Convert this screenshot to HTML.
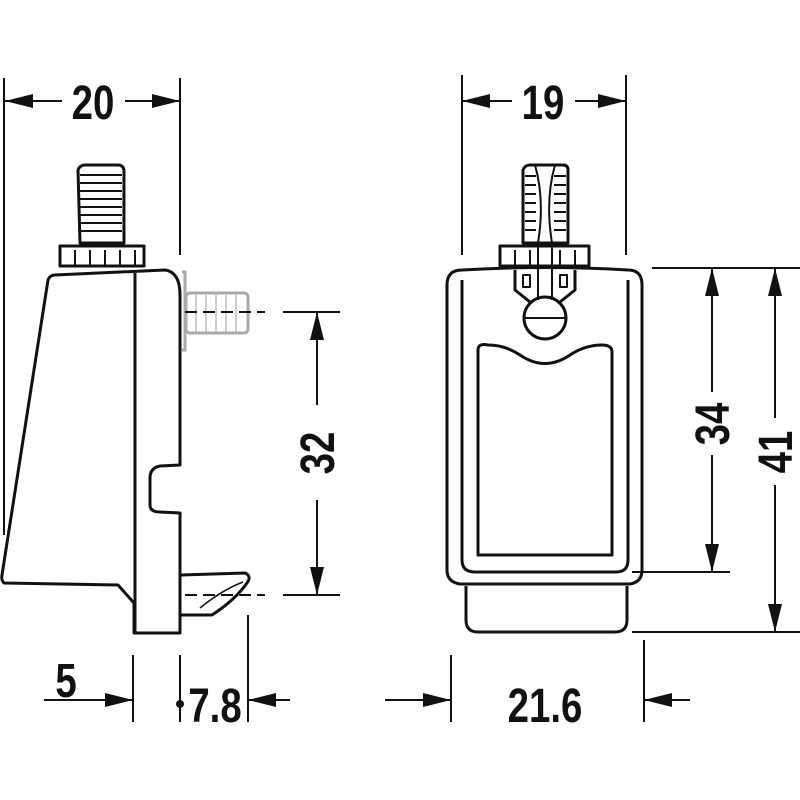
<!DOCTYPE html>
<html><head><meta charset="utf-8"><style>html,body{margin:0;padding:0;background:#fff}svg{display:block}</style></head>
<body>
<svg width="800" height="800" viewBox="0 0 800 800" xmlns="http://www.w3.org/2000/svg">
<g fill="none" stroke="#111" stroke-width="2">
<line x1="4" y1="78" x2="4" y2="535"/>
<line x1="180" y1="78" x2="180" y2="255"/>
<line x1="462" y1="75" x2="462" y2="255"/>
<line x1="626" y1="75" x2="626" y2="255"/>
<!-- dim lines -->
<line x1="5" y1="101" x2="62" y2="101"/>
<line x1="125" y1="101" x2="180" y2="101"/>
<line x1="462" y1="101" x2="512" y2="101"/>
<line x1="575" y1="101" x2="626" y2="101"/>
<line x1="317" y1="312" x2="317" y2="405"/>
<line x1="317" y1="500" x2="317" y2="595"/>
<line x1="712" y1="268" x2="712" y2="392"/>
<line x1="712" y1="455" x2="712" y2="572"/>
<line x1="775" y1="268" x2="775" y2="418"/>
<line x1="775" y1="485" x2="775" y2="632"/>
<line x1="44" y1="700" x2="133" y2="700"/>
<line x1="248" y1="700" x2="290" y2="700"/>
<line x1="385" y1="700" x2="451" y2="700"/>
<line x1="644" y1="700" x2="690" y2="700"/>
<!-- ext -->
<line x1="283" y1="312" x2="340" y2="312"/>
<line x1="283" y1="595" x2="340" y2="595"/>
<line x1="133" y1="655" x2="133" y2="722"/>
<line x1="180" y1="655" x2="180" y2="722"/>
<line x1="248" y1="615" x2="248" y2="722"/>
<line x1="451" y1="655" x2="451" y2="722"/>
<line x1="644" y1="640" x2="644" y2="722"/>
<line x1="652" y1="268" x2="800" y2="268"/>
<line x1="632" y1="572" x2="730" y2="572"/>
<line x1="632" y1="632" x2="800" y2="632"/>
</g>
<g fill="#111">
<polygon points="5,101 33,94 33,108"/>
<polygon points="180,101 152,94 152,108"/>
<polygon points="462,101 490,94 490,108"/>
<polygon points="626,101 598,94 598,108"/>
<polygon points="317,312 310,340 324,340"/>
<polygon points="317,595 310,567 324,567"/>
<polygon points="712,268 705,296 719,296"/>
<polygon points="712,572 705,544 719,544"/>
<polygon points="775,268 768,296 782,296"/>
<polygon points="775,632 768,604 782,604"/>
<polygon points="133,700 105,693 105,707"/>
<polygon points="248,700 276,693 276,707"/>
<polygon points="451,700 423,693 423,707"/>
<polygon points="644,700 672,693 672,707"/>
<circle cx="180" cy="704" r="4"/>
</g>
<g font-family="Liberation Sans, sans-serif" font-weight="bold" font-size="48" fill="#111" text-anchor="middle">
<text transform="translate(93,119) scale(0.8,1)">20</text>
<text transform="translate(543,119) scale(0.8,1)">19</text>
<text transform="translate(66,697) scale(0.8,1)">5</text>
<text transform="translate(215,722) scale(0.8,1)">7.8</text>
<text transform="translate(545,722) scale(0.8,1)">21.6</text>
<text transform="translate(334,453) rotate(-90) scale(0.8,1)">32</text>
<text transform="translate(729,424) rotate(-90) scale(0.8,1)">34</text>
<text transform="translate(792,452) rotate(-90) scale(0.8,1)">41</text>
</g>
<!-- left view body -->
<g fill="none" stroke="#111" stroke-width="3" stroke-linejoin="round">
<path d="M78,170 Q80,165 85,165 L118,165 Q123,165 124,170 L124,243 L80,243 Z"/>
<path d="M60,246 L144,246 L144,266 L60,266 Z"/>
<path d="M55,275 L165,270 Q180,272 180,295 L180,465 L160,466 Q150,468 150,478 L150,505 Q150,512 160,512 L180,513 L180,633 L134,633 L134,603 L118,585 L4,583 Q1,580 2,575 L48,280 Q50,275 55,275 Z"/>
<line x1="135" y1="273" x2="135" y2="633"/>
<path d="M181,575 L245,573 Q252,576 247,583 Q235,600 212,615 L181,615"/>
<path d="M200,608 Q222,590 243,582" stroke-width="1.5"/>
</g>
<g stroke="#111" stroke-width="2">
<line x1="80" y1="175" x2="122" y2="175"/><line x1="80" y1="183" x2="122" y2="183"/><line x1="80" y1="191" x2="122" y2="191"/><line x1="80" y1="199" x2="122" y2="199"/><line x1="80" y1="207" x2="122" y2="207"/><line x1="80" y1="215" x2="122" y2="215"/><line x1="80" y1="223" x2="122" y2="223"/><line x1="80" y1="231" x2="122" y2="231"/>
<line x1="75" y1="250" x2="75" y2="266"/><line x1="90" y1="250" x2="90" y2="266"/><line x1="105" y1="250" x2="105" y2="266"/><line x1="120" y1="250" x2="120" y2="266"/><line x1="135" y1="250" x2="135" y2="266"/>
</g>
<g stroke="#aaa" stroke-width="3" fill="none">
<path d="M182,272 L185,272 L185,350 L182,350"/>
<rect x="186" y="293" width="62" height="40" rx="4"/>
</g>
<g stroke="#bbb" stroke-width="1.5">
<line x1="196" y1="295" x2="196" y2="332"/><line x1="206" y1="295" x2="206" y2="332"/><line x1="216" y1="295" x2="216" y2="332"/><line x1="226" y1="295" x2="226" y2="332"/><line x1="236" y1="295" x2="236" y2="332"/>
</g>
<g stroke="#111" stroke-width="2">
<line x1="185" y1="312" x2="265" y2="312" stroke-dasharray="12,6"/>
<line x1="185" y1="595" x2="265" y2="595" stroke-dasharray="12,6"/>
</g>
<!-- right view -->
<g fill="none" stroke="#111" stroke-width="3" stroke-linejoin="round">
<path d="M447,285 Q447,270 462,270 Q545,265 628,270 Q642,270 642,285 L642,570 Q642,582 630,584 L460,584 Q447,582 447,570 Z"/>
<path d="M462,280 L462,560 Q462,572 475,572 L616,572 Q628,572 628,560 L628,280"/>
<path d="M478,350 Q478,343 488,345 Q505,345 520,355 Q545,372 570,355 Q585,345 602,345 Q612,345 612,352 L612,555 L478,555 Z"/>
<path d="M466,586 L466,620 Q466,632 478,632 L615,632 Q627,632 627,620 L627,586"/>
<path d="M523,170 Q525,165 530,165 L563,165 Q568,165 568,170 L568,243 L523,243 Z"/>
<path d="M500,246 L589,246 L589,266 L500,266 Z"/>
<path d="M515,270 L515,290 L530,302 M575,270 L575,290 L560,302"/>
<circle cx="545" cy="318" r="21"/>
<line x1="524" y1="318" x2="566" y2="318" stroke-width="2"/>
<path d="M535,165 Q545,200 538,243 M555,165 Q545,200 552,243 M538,243 L538,300 M552,243 L552,300" stroke-width="2"/>
<rect x="523" y="275" width="7" height="12" stroke-width="2"/>
<rect x="560" y="275" width="7" height="12" stroke-width="2"/>
</g>
<g stroke="#111" stroke-width="2">
<line x1="525" y1="176" x2="536" y2="176"/><line x1="525" y1="185" x2="536" y2="185"/><line x1="525" y1="194" x2="536" y2="194"/><line x1="525" y1="203" x2="536" y2="203"/><line x1="525" y1="212" x2="536" y2="212"/><line x1="525" y1="221" x2="536" y2="221"/><line x1="525" y1="230" x2="536" y2="230"/>
<line x1="554" y1="176" x2="566" y2="176"/><line x1="554" y1="185" x2="566" y2="185"/><line x1="554" y1="194" x2="566" y2="194"/><line x1="554" y1="203" x2="566" y2="203"/><line x1="554" y1="212" x2="566" y2="212"/><line x1="554" y1="221" x2="566" y2="221"/><line x1="554" y1="230" x2="566" y2="230"/>
<line x1="515" y1="250" x2="515" y2="266"/><line x1="530" y1="250" x2="530" y2="266"/><line x1="560" y1="250" x2="560" y2="266"/><line x1="575" y1="250" x2="575" y2="266"/>
</g>
</svg>
</body></html>
